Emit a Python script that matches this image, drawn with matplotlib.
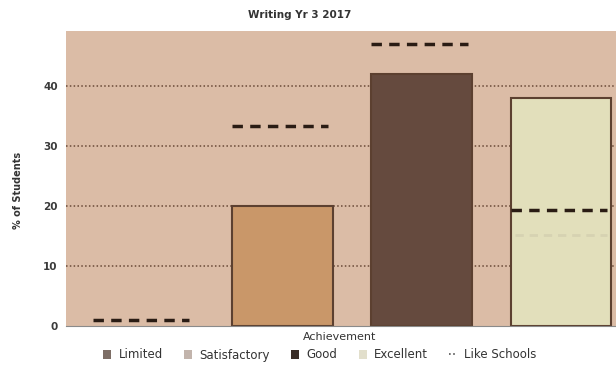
import matplotlib.pyplot as plt
import numpy as np
from matplotlib.lines import Line2D
from matplotlib.patches import Patch

categories = ["Limited", "Satisfactory", "Good", "Excellent"]
values = [0, 20, 42, 38]
like_schools = [1, 33.3, 47, 19.3]
faint_excellent = 15.2
bar_colors = ["#8c7a6c", "#c99769", "#654a3e", "#e2dfbb"]
yticks = [0, 10, 20, 30, 40]

fig = plt.figure(figsize=(6.16, 3.72), dpi=100)
ax = fig.add_axes([66/616, 46/372, 572/616, 295/372])
ax.set_facecolor("#dbbca6")

x = np.arange(len(categories))
for yv in yticks[1:]:
    ax.axhline(yv, color="#6a4a38", lw=1.1, ls=(0, (1, 1.5)), zorder=1)
lws = [1.5 if v > 0 else 0 for v in values]
ax.bar(x, values, width=0.72, color=bar_colors, edgecolor="#5c4030", linewidth=lws, zorder=2)
for xi, ls_val in zip(x, like_schools):
    ax.plot([xi - 0.36, xi + 0.33], [ls_val, ls_val], color="#2a1c14", lw=2.5,
            dashes=(3, 2.1), solid_capstyle="butt", dash_capstyle="butt", zorder=3)
# faint line inside Excellent bar
ax.plot([x[3] - 0.33, x[3] + 0.33], [faint_excellent] * 2, color="#d6d2b2", lw=2,
        dashes=(3, 2.1), zorder=3)

ax.set_xlim(-0.554, 3.554)
ax.set_ylim(0, 49.2)
ax.set_xticks([])
ax.set_yticks(yticks)
ax.tick_params(axis="y", length=0, pad=6, labelsize=7.5, labelcolor="#3a3a3a")
for lab in ax.get_yticklabels():
    lab.set_fontweight("bold")
for s in ["top", "right", "left"]:
    ax.spines[s].set_visible(False)
ax.spines["bottom"].set_color("#8a8a8a")

fig.text(300/616, 1 - 15/372, "Writing Yr 3 2017", ha="center", va="center",
         fontsize=7.5, fontweight="bold", color="#333333")
fig.text(18/616, 1 - 190/372, "% of Students", rotation=90, ha="center", va="center",
         fontsize=7, fontweight="bold", color="#333333")
fig.text(340/616, 1 - 337/372, "Achievement", ha="center", va="center",
         fontsize=8, color="#333333")

handles = [Patch(facecolor="#7d6e66"), Patch(facecolor="#c2b4ac"),
           Patch(facecolor="#3a2e28"), Patch(facecolor="#e2dfcc"),
           Line2D([0], [0], color="#555555", lw=1.2, ls=(0, (1, 1.5)))]
labels = categories + ["Like Schools"]
fig.legend(handles, labels, loc="center", bbox_to_anchor=(320/616, 1 - 355/372),
           ncol=5, frameon=False, fontsize=8.5, handlelength=0.7, handleheight=0.7,
           handletextpad=0.6, columnspacing=1.8, labelcolor="#333333")

fig.savefig("out.png", dpi=100)
